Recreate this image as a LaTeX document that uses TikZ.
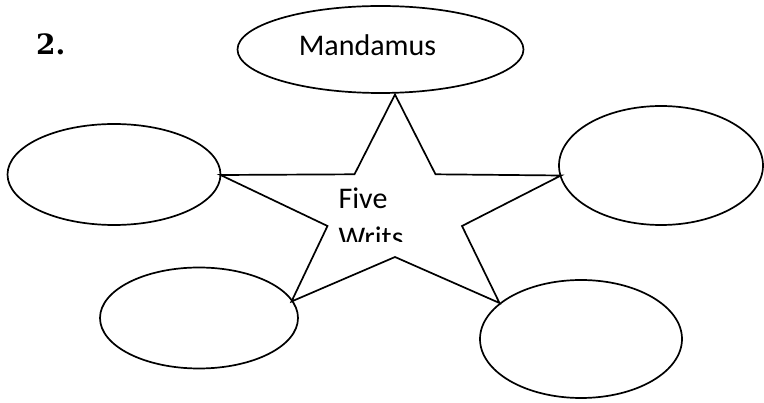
\documentclass[tikz,border=0pt]{standalone}
\usepackage{fontspec}
\newfontfamily\calfont{Carlito}
\newfontfamily\numfont{DejaVu Serif}
\usetikzlibrary{shapes.geometric}
\tikzset{
  bubble/.style={draw=black, line width=1.7pt, ellipse, inner sep=0pt},
  starline/.style={draw=black, line width=1.7pt, line join=miter},
  lbl/.style={font=\calfont\fontsize{30}{36}\selectfont, anchor=base, inner sep=0pt},
  numlbl/.style={font=\numfont\fontsize{28}{34}\selectfont\bfseries, anchor=base west, inner sep=0pt}
}
\begin{document}
\begin{tikzpicture}[x=1pt,y=-1pt]
\useasboundingbox[fill=white] (0,0) rectangle (764,403);
% ellipses
\node[bubble, minimum width=286pt, minimum height=87pt] (mand) at (380.5,49.5) {};
\node[bubble, minimum width=213pt, minimum height=101pt] (left) at (114,174.5) {};
\node[bubble, minimum width=204pt, minimum height=119pt] (right) at (661,165.5) {};
\node[bubble, minimum width=198pt, minimum height=101pt] (bl) at (199,318) {};
\node[bubble, minimum width=202pt, minimum height=118pt] (br) at (581,339) {};
% star vertices
\coordinate (t) at (395,94.5);
\coordinate (iur) at (435.5,174.3);
\coordinate (rt) at (561,175.5);
\coordinate (ilr) at (462,226);
\coordinate (brt) at (499.5,303);
\coordinate (ib) at (395,257);
\coordinate (blt) at (291.5,301.5);
\coordinate (ill) at (327.5,226);
\coordinate (lt) at (220.5,175);
\coordinate (iul) at (354.5,174.3);
\draw[starline] (t) -- (iur) -- (rt) -- (ilr) -- (brt) -- (ib) -- (blt) -- (ill) -- (lt) -- (iul) -- cycle;
% texts
\node[lbl] (mtext) at (367.5,56) {Mandamus};
\node[lbl] (five) at (363,208.3) {Five};
\begin{scope}
\clip (300,212) rectangle (440,241.7);
\node[lbl] (writs) at (371,247.3) {Writs};
\end{scope}
\node[numlbl] (num) at (36,55) {2.};
\end{tikzpicture}
\end{document}
